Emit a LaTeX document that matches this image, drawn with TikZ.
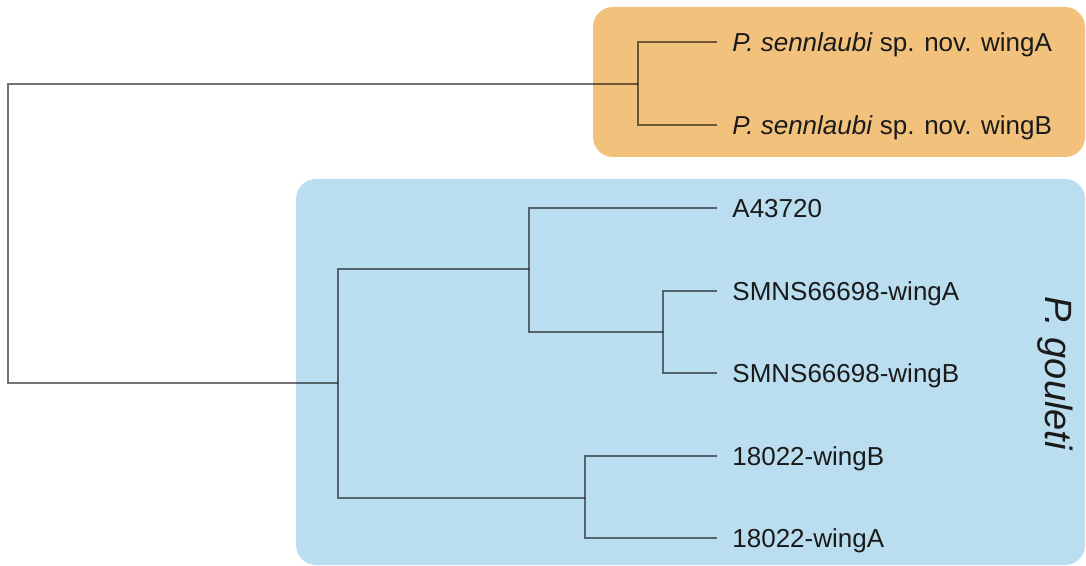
\documentclass[tikz,border=0pt]{standalone}
\usepackage{fontspec}
\setmainfont{Liberation Sans}
\definecolor{sennbox}{RGB}{242,194,124}
\definecolor{goubox}{RGB}{186,222,240}
\definecolor{labeltext}{RGB}{26,26,26}
\begin{document}
\begin{tikzpicture}[x=0.5pt,y=-0.5pt,
    branch/.style={draw=black, draw opacity=0.55, line width=0.75pt},
    leaf/.style={anchor=west, inner xsep=7.5pt, inner ysep=0pt, text height=9.4pt, text depth=0pt,
        text=labeltext, font=\fontsize{13}{15}\selectfont},
    clade/.style={rounded corners=10pt}]
    \useasboundingbox (0,0) rectangle (1086,566);

    % Cajas de las especies
    \fill[sennbox, clade] (593,7) rectangle (1085,157);
    \fill[goubox, clade] (296,179) rectangle (1085,565);

    % Hojas
    \node[leaf] (sA) at (717,42) {\textit{P. sennlaubi} sp. nov. wingA};
    \node[leaf] (sB) at (717,125) {\textit{P. sennlaubi} sp. nov. wingB};
    \node[leaf] (a437) at (717,208) {A43720};
    \node[leaf] (smA) at (717,291) {SMNS66698-wingA};
    \node[leaf] (smB) at (717,373) {SMNS66698-wingB};
    \node[leaf] (w18B) at (717,456) {18022-wingB};
    \node[leaf] (w18A) at (717,538) {18022-wingA};

    % Nodos internos
    \coordinate (root) at (8,233);
    \coordinate (sen) at (638,84);
    \coordinate (gou) at (338,383);
    \coordinate (cA) at (529,269);
    \coordinate (cS) at (663,332);
    \coordinate (c18) at (585,498);

    % Ramas
    \draw[branch] (sen) -| (root) |- (gou);
    \draw[branch] (sen) |- (sA);
    \draw[branch] (sen) |- (sB);
    \draw[branch] (gou) |- (cA);
    \draw[branch] (gou) |- (c18);
    \draw[branch] (cA) |- (a437);
    \draw[branch] (cA) |- (cS);
    \draw[branch] (cS) |- (smA);
    \draw[branch] (cS) |- (smB);
    \draw[branch] (c18) |- (w18B);
    \draw[branch] (c18) |- (w18A);

    % Nombre del clado
    \node[rotate=-90, anchor=base, text=labeltext, font=\fontsize{19}{22}\selectfont\itshape] (pgou) at (1045,373) {P. gouleti};
\end{tikzpicture}
\end{document}
